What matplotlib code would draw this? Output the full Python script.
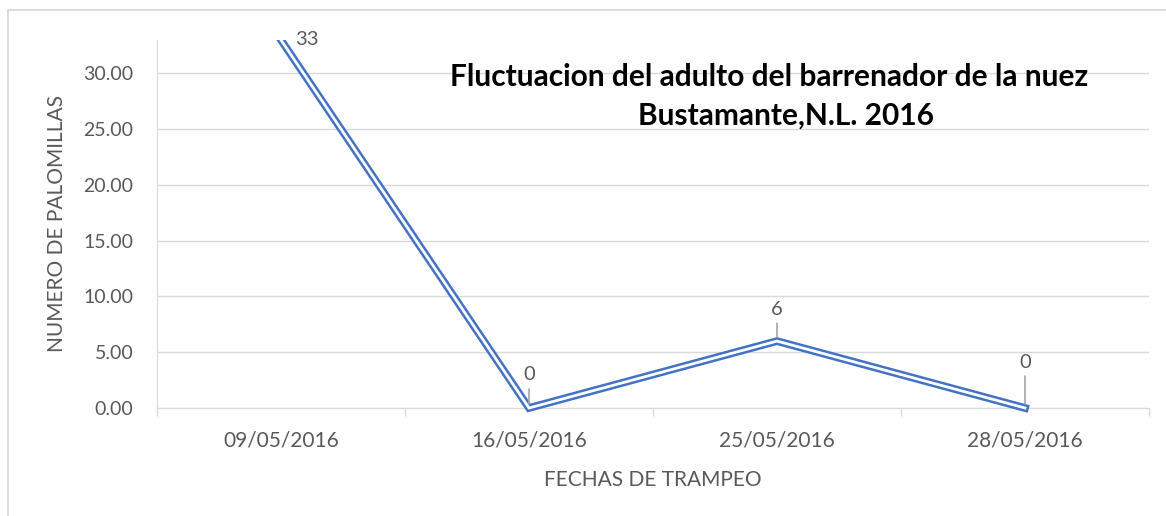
import matplotlib
matplotlib.use("Agg")
import matplotlib.pyplot as plt
from matplotlib.patches import Rectangle
from matplotlib.ticker import FixedLocator, FormatStrFormatter

fechas = ["09/05/2016", "16/05/2016", "25/05/2016", "28/05/2016"]
palomillas = [33, 0, 6, 0]
titulo = ["Fluctuacion del adulto del barrenador de la nuez", "Bustamante,N.L. 2016"]
y_ticks = [0, 5, 10, 15, 20, 25, 30]

BLUE = "#4472C4"
GRID = "#D9D9D9"
TXT = "#595959"

plt.rcParams["font.family"] = ["Lato", "DejaVu Sans"]

fig = plt.figure(figsize=(11.66, 5.16), dpi=100)
ax = fig.add_axes([157 / 1166, 1 - 408 / 516, (1149 - 157) / 1166, (408 - 40) / 516])

# borde del grafico (solo se ve arriba e izquierda)
fig.add_artist(Rectangle((8 / 1166, -0.1), 1.2, (516 - 10) / 516 + 0.1,
                         transform=fig.transFigure, fill=False,
                         edgecolor=GRID, linewidth=1.3))

# linea doble estilo Excel
x = list(range(len(fechas)))
clip = Rectangle((0, -0.05), 1, 1.05, transform=ax.transAxes)
outer, = ax.plot(x, palomillas, color=BLUE, lw=5.6, solid_joinstyle="miter", zorder=3)
inner, = ax.plot(x, palomillas, color="white", lw=2.0, solid_joinstyle="miter", zorder=4)
outer.set_clip_path(clip)
inner.set_clip_path(clip)

ax.set_xlim(-0.5, len(fechas) - 0.5)
ax.set_ylim(0, 33)

ax.yaxis.set_major_locator(FixedLocator(y_ticks))
ax.yaxis.set_major_formatter(FormatStrFormatter("%.2f"))
ax.tick_params(axis="y", length=0, pad=17, labelsize=14, labelcolor=TXT)
ax.grid(axis="y", color=GRID, lw=1)
ax.set_axisbelow(True)

ax.set_xticks([i - 0.5 for i in range(len(fechas) + 1)])
ax.set_xticklabels([])
ax.set_xticks(x, minor=True)
ax.set_xticklabels(fechas, minor=True)
ax.tick_params(axis="x", which="major", length=6, color=GRID, width=1)
ax.tick_params(axis="x", which="minor", length=0, pad=16, labelsize=15, labelcolor=TXT)

for s in ["top", "right"]:
    ax.spines[s].set_visible(False)
for s in ["left", "bottom"]:
    ax.spines[s].set_color(GRID)

ax.set_xlabel("FECHAS DE TRAMPEO", fontsize=15, color=TXT, labelpad=14)
ax.set_ylabel("NUMERO DE PALOMILLAS", fontsize=15, color=TXT, labelpad=12)

# etiquetas de datos
offsets = [(26, 0), (0, 33), (0, 32), (0, 46)]
for i, (v, off) in enumerate(zip(palomillas, offsets)):
    arrow = None
    if off[1] > 0:
        arrow = dict(arrowstyle="-", color="#A6A6A6", lw=1.2, shrinkA=2, shrinkB=3)
    ax.annotate(str(v), xy=(i, v), xytext=off, textcoords="offset pixels",
                ha="center", va="center", fontsize=14.5, color=TXT,
                arrowprops=arrow, annotation_clip=False, zorder=5)

fig.text(769 / 1166, 1 - 77 / 516, titulo[0], ha="center", va="center",
         fontsize=21.5, fontweight="bold", color="black")
fig.text(786 / 1166, 1 - 116 / 516, titulo[1], ha="center", va="center",
         fontsize=21.5, fontweight="bold", color="black")

fig.savefig("out.png", dpi=100)
